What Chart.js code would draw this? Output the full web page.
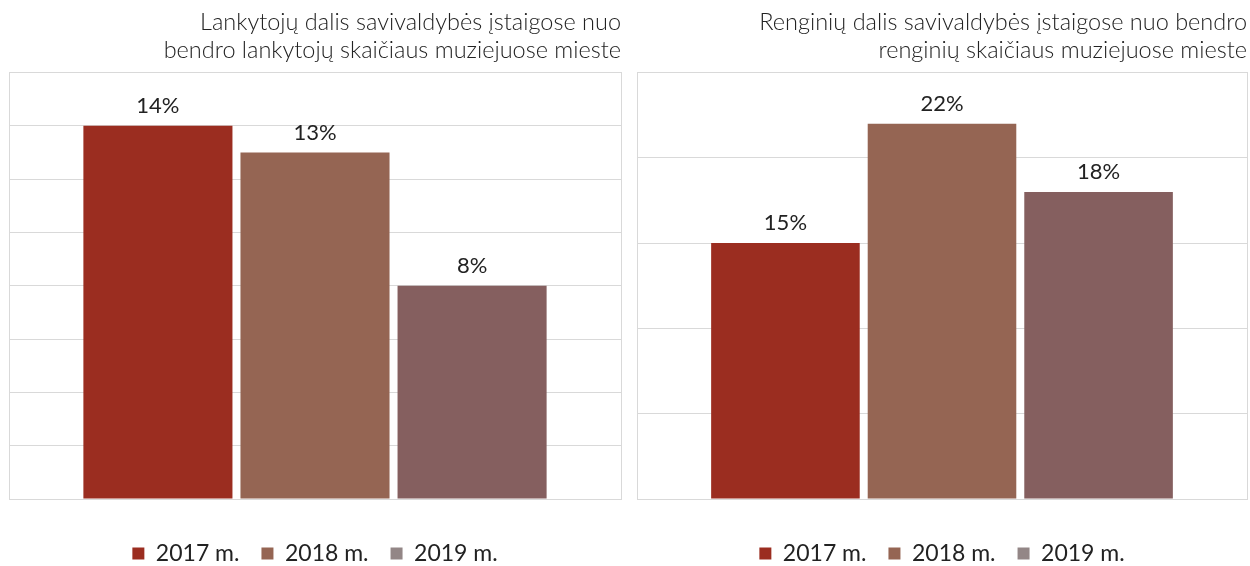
<!DOCTYPE html>
<html>
<head>
<meta charset="utf-8">
<script src="https://cdn.jsdelivr.net/npm/chart.js@4"></script>
<style>
  body { margin: 0; background: #fff; }
  .wrap { position: absolute; top: 0; height: 566px; }
  #w1 { left: 0; width: 625px; }
  #w2 { left: 625px; width: 625px; }
</style>
</head>
<body>
<div class="wrap" id="w1"><canvas id="c1"></canvas></div>
<div class="wrap" id="w2"><canvas id="c2"></canvas></div>
<script>
var years = ["2017 m.", "2018 m.", "2019 m."];
var barColors = ["#9b2d20", "#956553", "#855f5f"];
var legendColors = ["#9b2d20", "#956553", "#938686"];
var visitors = [14, 13, 8];
var events = [15, 22, 18];
var title1 = ["Lankytojų dalis savivaldybės įstaigose nuo", "bendro lankytojų skaičiaus muziejuose mieste"];
var title2 = ["Renginių dalis savivaldybės įstaigose nuo bendro", "renginių skaičiaus muziejuose mieste"];

Chart.defaults.font.family = "Lato, sans-serif";
Chart.defaults.color = "#222";

// value labels above bars + frame around the plot
var extras = {
    id: 'extras',
    beforeDatasetsDraw: function(chart) {
        var a = chart.chartArea, ctx = chart.ctx;
        ctx.save();
        ctx.strokeStyle = "#d9d9d9";
        ctx.lineWidth = 1;
        ctx.strokeRect(Math.round(a.left) + 0.5, Math.round(a.top) + 0.5,
            Math.round(a.right - a.left), Math.round(a.bottom - a.top));
        ctx.restore();
    },
    afterDatasetsDraw: function(chart) {
        var ctx = chart.ctx;
        ctx.save();
        ctx.font = "22px Lato, sans-serif";
        ctx.fillStyle = "#222";
        ctx.textAlign = "center";
        ctx.textBaseline = "middle";
        chart.data.datasets.forEach(function(ds, i) {
            chart.getDatasetMeta(i).data.forEach(function(bar, j) {
                ctx.fillText(ds.data[j] + "%", bar.x, bar.y - 20);
            });
        });
        ctx.restore();
    }
};

function makeChart(id, values, title, maxY, step, padL, padR) {
    new Chart(document.getElementById(id), {
        type: 'bar',
        data: {
            labels: [""],
            datasets: years.map(function(y, i) {
                return {
                    label: y,
                    data: [values[i]],
                    backgroundColor: barColors[i],
                    categoryPercentage: 0.77,
                    barPercentage: 0.949
                };
            })
        },
        options: {
            responsive: true,
            maintainAspectRatio: false,
            animation: false,
            layout: { padding: { left: padL, right: padR, top: 9, bottom: -9 } },
            plugins: {
                tooltip: { enabled: false },
                title: {
                    display: true,
                    text: title,
                    align: 'end',
                    font: { size: 23.5, weight: '300', lineHeight: 1.18 },
                    color: "#222",
                    padding: { top: 0, bottom: 8 }
                },
                legend: {
                    position: 'bottom',
                    labels: {
                        boxWidth: 12,
                        boxHeight: 12,
                        padding: 22,
                        font: { size: 23, lineHeight: 1 },
                        color: "#222",
                        generateLabels: function(chart) {
                            return years.map(function(y, i) {
                                return { text: y, fillStyle: legendColors[i], strokeStyle: legendColors[i],
                                         lineWidth: 0, datasetIndex: i, fontColor: "#222" };
                            });
                        }
                    }
                }
            },
            scales: {
                x: {
                    grid: { display: false },
                    border: { display: false },
                    ticks: { display: false },
                    afterFit: function(s) { s.height = 21; }
                },
                y: {
                    min: 0,
                    max: maxY,
                    ticks: { display: false, stepSize: step },
                    grid: { color: "#d9d9d9", drawTicks: false },
                    border: { display: false }
                }
            }
        },
        plugins: [extras]
    });
}

makeChart("c1", visitors, title1, 16, 2, 9, 4);
makeChart("c2", events, title2, 25, 5, 12, 3);
</script>
</body>
</html>
